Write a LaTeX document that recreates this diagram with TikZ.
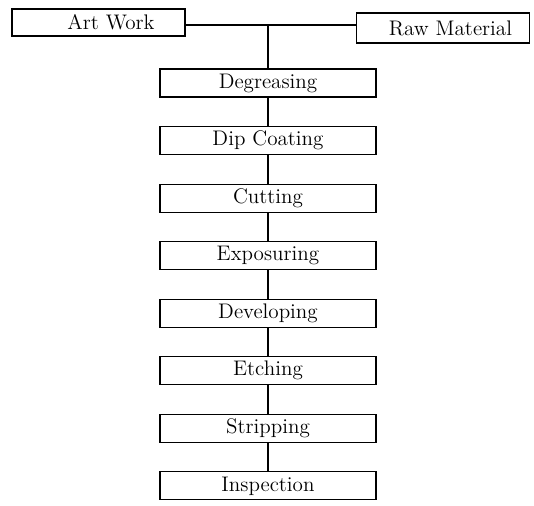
\documentclass[tikz,border=0pt]{standalone}
\usepackage{tikz}
\usetikzlibrary{positioning}

\tikzset{
	stepbox/.style={draw,line width=.6pt,minimum width=4.32cm,minimum height=.56cm,inner sep=0pt,font=\fontsize{12}{14}\selectfont},
	srcbox/.style={stepbox,minimum width=3.46cm},
	link/.style={line width=.6pt,-}
}

\begin{document}
\begin{tikzpicture}
		\useasboundingbox (0,0) rectangle (10.68,-10.1);
		% the two inputs
		\node[srcbox,minimum height=.54cm] (art) at (1.97,-.45) {\hspace{.5cm}Art\ Work};
		\node[srcbox,minimum height=.6cm] (raw) at (8.86,-.56) {\hspace{.3cm}Raw\ Material};

		% process steps
		\node[stepbox] (deg) at (5.36,-1.66) {Degreasing};
		\node[stepbox,below=.57cm of deg] (dip) {Dip\ Coating};
		\node[stepbox,below=.57cm of dip] (cut) {Cutting};
		\node[stepbox,below=.57cm of cut] (exp) {Exposuring};
		\node[stepbox,below=.57cm of exp] (dev) {Developing};
		\node[stepbox,below=.57cm of dev] (etch) {Etching};
		\node[stepbox,below=.57cm of etch] (strip) {Stripping};
		\node[stepbox,below=.57cm of strip] (insp) {Inspection};

		\coordinate (join) at (deg.north |- 0,-.5);
		\draw[link] (art.east |- join) -- (join) -- (raw.west |- join);
		\draw[link] (join) -- (deg);

		\foreach \a/\b in {deg/dip,dip/cut,cut/exp,exp/dev,dev/etch,etch/strip,strip/insp}
		\draw[link] (\a) -- (\b);
\end{tikzpicture}
\end{document}
